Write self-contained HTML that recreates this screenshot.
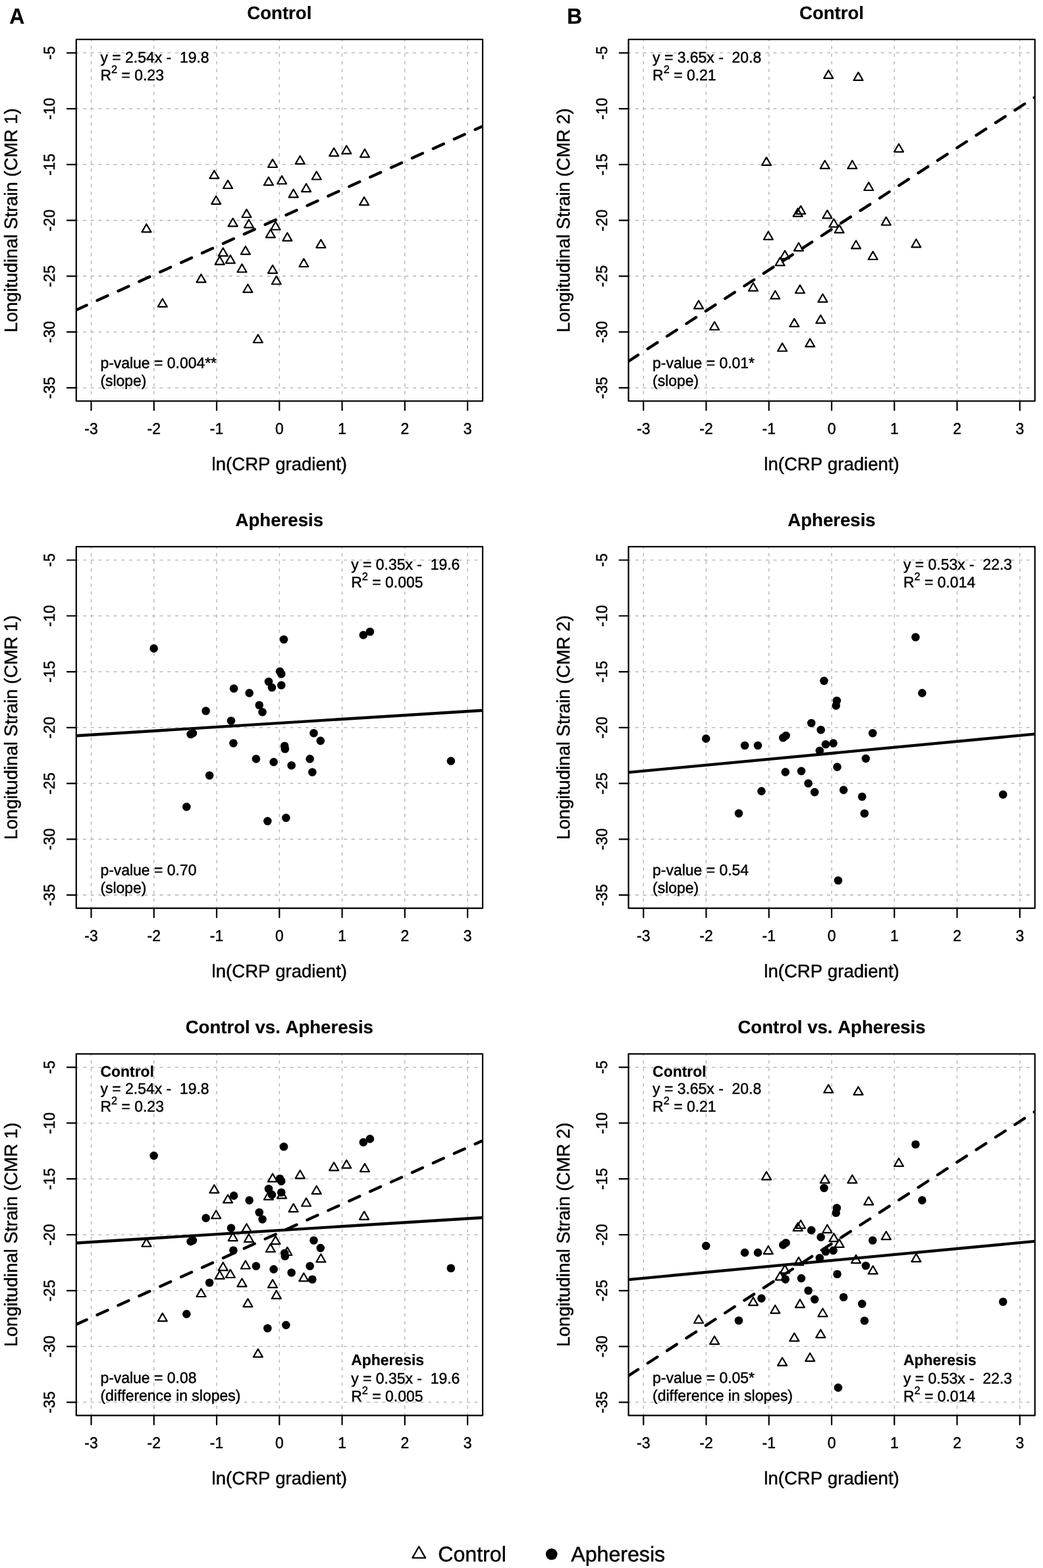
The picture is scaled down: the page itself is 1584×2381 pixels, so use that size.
<!DOCTYPE html>
<html lang="en"><head><meta charset="utf-8"><title>Longitudinal strain vs ln(CRP gradient)</title>
<style>html,body{margin:0;padding:0;background:#fff}svg{display:block}text{font-family:"Liberation Sans", Arial, Helvetica, sans-serif;fill:#000;font-kerning:none;text-rendering:geometricPrecision;stroke:#000;stroke-width:0.45px;stroke-linejoin:round}.b{font-weight:bold;stroke-width:0.2px}</style>
</head><body>
<svg width="1584" height="2381" viewBox="0 0 1584 2381">
<rect width="1584" height="2381" fill="#fff"/>
<g>
<clipPath id="c00"><rect x="115.8" y="59.9" width="617.2" height="549.1"/></clipPath>
<g clip-path="url(#c00)" stroke="#bbbbbb" stroke-width="1.55" stroke-dasharray="5 6.65" fill="none">
<path d="M138.52 610.45V54.9"/>
<path d="M233.78 610.45V54.9"/>
<path d="M329.04 610.45V54.9"/>
<path d="M424.3 610.45V54.9"/>
<path d="M519.56 610.45V54.9"/>
<path d="M614.82 610.45V54.9"/>
<path d="M710.08 610.45V54.9"/>
<path d="M114.4 588.92H738"/>
<path d="M114.4 504.15H738"/>
<path d="M114.4 419.38H738"/>
<path d="M114.4 334.6H738"/>
<path d="M114.4 249.83H738"/>
<path d="M114.4 165.05H738"/>
<path d="M114.4 80.28H738"/>
</g>
<g clip-path="url(#c00)" stroke="#000" stroke-width="4.38" fill="none">
<path d="M115.66 470.74L732.94 191.68" stroke-dasharray="17.5 17.5" stroke-linecap="round"/>
</g>
<path d="M325.38 258.83L332.38 270.95L318.38 270.95ZM346.05 273.88L353.05 286L339.05 286ZM328.19 297.73L335.19 309.85L321.19 309.85ZM374.49 317.88L381.49 330.01L367.49 330.01ZM353.7 331.53L360.7 343.65L346.7 343.65ZM377.93 333.44L384.93 345.57L370.93 345.57ZM222.45 340.2L229.45 352.33L215.45 352.33ZM414.03 241.86L421.03 253.99L407.03 253.99ZM455.74 236.76L462.74 248.88L448.74 248.88ZM507.14 224.77L514.14 236.89L500.14 236.89ZM526.28 221.2L533.28 233.32L519.28 233.32ZM553.95 226.55L560.95 238.68L546.95 238.68ZM480.74 260.36L487.74 272.48L473.74 272.48ZM407.91 269.03L414.91 281.15L400.91 281.15ZM428.06 267.12L435.06 279.24L421.06 279.24ZM465.05 278.98L472.05 291.1L458.05 291.1ZM445.66 287.52L452.66 299.65L438.66 299.65ZM553.06 299.26L560.06 311.38L546.06 311.38ZM418.49 336.63L425.49 348.76L411.49 348.76ZM410.84 348.49L417.84 360.62L403.84 360.62ZM436.35 353.47L443.35 365.59L429.35 365.59ZM372.83 373.98L379.83 386.1L365.83 386.1ZM338.78 376.53L345.78 388.65L331.78 388.65ZM333.67 389.41L340.67 401.54L326.67 401.54ZM349.87 387.5L356.87 399.62L342.87 399.62ZM367.47 401.15L374.47 413.27L360.47 413.27ZM305.48 416.45L312.48 428.58L298.48 428.58ZM376.4 431.76L383.4 443.88L369.4 443.88ZM246.81 453.7L253.81 465.82L239.81 465.82ZM487.37 363.9L494.37 376.03L480.37 376.03ZM461.35 392.86L468.35 404.98L454.35 404.98ZM414.03 402.68L421.03 414.8L407.03 414.8ZM419.77 419.39L426.77 431.51L412.77 431.51ZM391.84 508.14L398.84 520.26L384.84 520.26Z" fill="none" stroke="#000" stroke-width="2.2" stroke-linejoin="round"/>
<path d="M115.8 59.9H733V609H115.8ZM138.52 609v13.9M233.78 609v13.9M329.04 609v13.9M424.3 609v13.9M519.56 609v13.9M614.82 609v13.9M710.08 609v13.9M115.8 588.92h-13.9M115.8 504.15h-13.9M115.8 419.38h-13.9M115.8 334.6h-13.9M115.8 249.83h-13.9M115.8 165.05h-13.9M115.8 80.28h-13.9" fill="none" stroke="#000" stroke-width="2.2" stroke-linejoin="round" stroke-linecap="round"/>
<g font-size="22.95" text-anchor="middle">
<text transform="translate(138.52 658.9) scale(1 1.045)" xml:space="preserve">-3</text>
<text transform="translate(233.78 658.9) scale(1 1.045)" xml:space="preserve">-2</text>
<text transform="translate(329.04 658.9) scale(1 1.045)" xml:space="preserve">-1</text>
<text transform="translate(424.3 658.9) scale(1 1.045)" xml:space="preserve">0</text>
<text transform="translate(519.56 658.9) scale(1 1.045)" xml:space="preserve">1</text>
<text transform="translate(614.82 658.9) scale(1 1.045)" xml:space="preserve">2</text>
<text transform="translate(710.08 658.9) scale(1 1.045)" xml:space="preserve">3</text>
<text transform="translate(82.9 588.92) rotate(-90) scale(1 1.045)" xml:space="preserve">-35</text>
<text transform="translate(82.9 504.15) rotate(-90) scale(1 1.045)" xml:space="preserve">-30</text>
<text transform="translate(82.9 419.38) rotate(-90) scale(1 1.045)" xml:space="preserve">-25</text>
<text transform="translate(82.9 334.6) rotate(-90) scale(1 1.045)" xml:space="preserve">-20</text>
<text transform="translate(82.9 249.83) rotate(-90) scale(1 1.045)" xml:space="preserve">-15</text>
<text transform="translate(82.9 165.05) rotate(-90) scale(1 1.045)" xml:space="preserve">-10</text>
<text transform="translate(82.9 80.28) rotate(-90) scale(1 1.045)" xml:space="preserve">-5</text>
</g>
<text transform="translate(424.3 713.8)" font-size="27.6" text-anchor="middle" xml:space="preserve">ln(CRP gradient)</text>
<text transform="translate(26.1 334.45) rotate(-90)" font-size="27.6" text-anchor="middle" xml:space="preserve">Longitudinal Strain (CMR 1)</text>
<text transform="translate(424.3 28.7)" font-size="27.6" text-anchor="middle" class="b" xml:space="preserve">Control</text>
<g font-size="22.95">
<text transform="translate(152.4 94.7) scale(1 1.02)" xml:space="preserve">y = 2.54x -  19.8</text>
<text transform="translate(152.4 121.7) scale(1 1.02)" xml:space="preserve">R<tspan font-size="16.4" dy="-10.9">2</tspan><tspan dy="10.9"> = 0.23</tspan></text>
<text transform="translate(152.4 559.2) scale(1 1.02)" xml:space="preserve">p-value = 0.004**</text>
<text transform="translate(152.4 586.1) scale(1 1.02)" xml:space="preserve">(slope)</text>
</g>
</g>
<g>
<clipPath id="c10"><rect x="954.5" y="59.9" width="617.2" height="549.1"/></clipPath>
<g clip-path="url(#c10)" stroke="#bbbbbb" stroke-width="1.55" stroke-dasharray="5 6.65" fill="none">
<path d="M977.22 610.45V54.9"/>
<path d="M1072.48 610.45V54.9"/>
<path d="M1167.74 610.45V54.9"/>
<path d="M1263 610.45V54.9"/>
<path d="M1358.26 610.45V54.9"/>
<path d="M1453.52 610.45V54.9"/>
<path d="M1548.78 610.45V54.9"/>
<path d="M953.1 588.92H1576.7"/>
<path d="M953.1 504.15H1576.7"/>
<path d="M953.1 419.38H1576.7"/>
<path d="M953.1 334.6H1576.7"/>
<path d="M953.1 249.83H1576.7"/>
<path d="M953.1 165.05H1576.7"/>
<path d="M953.1 80.28H1576.7"/>
</g>
<g clip-path="url(#c10)" stroke="#000" stroke-width="4.38" fill="none">
<path d="M954.36 548.67L1571.64 147.65" stroke-dasharray="17.5 17.5" stroke-linecap="round"/>
</g>
<path d="M1258.22 106.68L1265.22 118.81L1251.22 118.81ZM1303.49 109.83L1310.49 121.96L1296.49 121.96ZM1365 218.44L1372 230.56L1358 230.56ZM1164.04 238.83L1171.04 250.96L1157.04 250.96ZM1252.75 243.81L1259.75 255.93L1245.75 255.93ZM1294.37 243.81L1301.37 255.93L1287.37 255.93ZM1216.09 312.66L1223.09 324.79L1209.09 324.79ZM1211.61 316.48L1218.61 328.6L1204.61 328.6ZM1256.38 319.29L1263.38 331.42L1249.38 331.42ZM1266.33 332.56L1273.33 344.68L1259.33 344.68ZM1274.62 341.35L1281.62 353.47L1267.62 353.47ZM1166.84 351.63L1173.84 363.75L1159.84 363.75ZM1212.94 368.71L1219.94 380.83L1205.94 380.83ZM1192.05 380.64L1199.05 392.77L1185.05 392.77ZM1184.59 391.09L1191.59 403.21L1177.59 403.21ZM1143.96 429.56L1150.96 441.68L1136.96 441.68ZM1214.93 432.87L1221.93 445L1207.93 445ZM1319.26 276.88L1326.26 289.01L1312.26 289.01ZM1345.79 329.61L1352.79 341.73L1338.79 341.73ZM1300.02 365.3L1307.02 377.43L1293.02 377.43ZM1391.38 363.31L1398.38 375.44L1384.38 375.44ZM1325.72 381.88L1332.72 394.01L1318.72 394.01ZM1249.45 446.55L1256.45 458.67L1242.45 458.67ZM1246.3 478.55L1253.3 490.68L1239.3 490.68ZM1177.29 441.55L1184.29 453.68L1170.29 453.68ZM1061.06 456.48L1068.06 468.6L1054.06 468.6ZM1085.1 488.64L1092.1 500.77L1078.1 500.77ZM1206.31 483.83L1213.31 495.96L1199.31 495.96ZM1188.07 521.14L1195.07 533.27L1181.07 533.27ZM1230.18 514.34L1237.18 526.47L1223.18 526.47Z" fill="none" stroke="#000" stroke-width="2.2" stroke-linejoin="round"/>
<path d="M954.5 59.9H1571.7V609H954.5ZM977.22 609v13.9M1072.48 609v13.9M1167.74 609v13.9M1263 609v13.9M1358.26 609v13.9M1453.52 609v13.9M1548.78 609v13.9M954.5 588.92h-13.9M954.5 504.15h-13.9M954.5 419.38h-13.9M954.5 334.6h-13.9M954.5 249.83h-13.9M954.5 165.05h-13.9M954.5 80.28h-13.9" fill="none" stroke="#000" stroke-width="2.2" stroke-linejoin="round" stroke-linecap="round"/>
<g font-size="22.95" text-anchor="middle">
<text transform="translate(977.22 658.9) scale(1 1.045)" xml:space="preserve">-3</text>
<text transform="translate(1072.48 658.9) scale(1 1.045)" xml:space="preserve">-2</text>
<text transform="translate(1167.74 658.9) scale(1 1.045)" xml:space="preserve">-1</text>
<text transform="translate(1263 658.9) scale(1 1.045)" xml:space="preserve">0</text>
<text transform="translate(1358.26 658.9) scale(1 1.045)" xml:space="preserve">1</text>
<text transform="translate(1453.52 658.9) scale(1 1.045)" xml:space="preserve">2</text>
<text transform="translate(1548.78 658.9) scale(1 1.045)" xml:space="preserve">3</text>
<text transform="translate(921.6 588.92) rotate(-90) scale(1 1.045)" xml:space="preserve">-35</text>
<text transform="translate(921.6 504.15) rotate(-90) scale(1 1.045)" xml:space="preserve">-30</text>
<text transform="translate(921.6 419.38) rotate(-90) scale(1 1.045)" xml:space="preserve">-25</text>
<text transform="translate(921.6 334.6) rotate(-90) scale(1 1.045)" xml:space="preserve">-20</text>
<text transform="translate(921.6 249.83) rotate(-90) scale(1 1.045)" xml:space="preserve">-15</text>
<text transform="translate(921.6 165.05) rotate(-90) scale(1 1.045)" xml:space="preserve">-10</text>
<text transform="translate(921.6 80.28) rotate(-90) scale(1 1.045)" xml:space="preserve">-5</text>
</g>
<text transform="translate(1263 713.8)" font-size="27.6" text-anchor="middle" xml:space="preserve">ln(CRP gradient)</text>
<text transform="translate(864.8 334.45) rotate(-90)" font-size="27.6" text-anchor="middle" xml:space="preserve">Longitudinal Strain (CMR 2)</text>
<text transform="translate(1263 28.7)" font-size="27.6" text-anchor="middle" class="b" xml:space="preserve">Control</text>
<g font-size="22.95">
<text transform="translate(991.1 94.7) scale(1 1.02)" xml:space="preserve">y = 3.65x -  20.8</text>
<text transform="translate(991.1 121.7) scale(1 1.02)" xml:space="preserve">R<tspan font-size="16.4" dy="-10.9">2</tspan><tspan dy="10.9"> = 0.21</tspan></text>
<text transform="translate(991.1 559.2) scale(1 1.02)" xml:space="preserve">p-value = 0.01*</text>
<text transform="translate(991.1 586.1) scale(1 1.02)" xml:space="preserve">(slope)</text>
</g>
</g>
<g>
<clipPath id="c01"><rect x="115.8" y="830.1" width="617.2" height="549.1"/></clipPath>
<g clip-path="url(#c01)" stroke="#bbbbbb" stroke-width="1.55" stroke-dasharray="5 6.65" fill="none">
<path d="M138.52 1380.65V825.1"/>
<path d="M233.78 1380.65V825.1"/>
<path d="M329.04 1380.65V825.1"/>
<path d="M424.3 1380.65V825.1"/>
<path d="M519.56 1380.65V825.1"/>
<path d="M614.82 1380.65V825.1"/>
<path d="M710.08 1380.65V825.1"/>
<path d="M114.4 1359.13H738"/>
<path d="M114.4 1274.35H738"/>
<path d="M114.4 1189.58H738"/>
<path d="M114.4 1104.8H738"/>
<path d="M114.4 1020.03H738"/>
<path d="M114.4 935.25H738"/>
<path d="M114.4 850.48H738"/>
</g>
<g clip-path="url(#c01)" stroke="#000" stroke-width="4.38" fill="none">
<path d="M115.66 1117.24L732.94 1078.79"/>
</g>
<g fill="#000">
<circle cx="431.05" cy="971.01" r="6.3"/>
<circle cx="425.08" cy="1019.59" r="6.3"/>
<circle cx="427.24" cy="1023.4" r="6.3"/>
<circle cx="408.01" cy="1035.01" r="6.3"/>
<circle cx="412.98" cy="1043.96" r="6.3"/>
<circle cx="427.24" cy="1040.48" r="6.3"/>
<circle cx="355.11" cy="1045.46" r="6.3"/>
<circle cx="378.66" cy="1052.42" r="6.3"/>
<circle cx="393.75" cy="1070.82" r="6.3"/>
<circle cx="398.55" cy="1081.27" r="6.3"/>
<circle cx="312.66" cy="1079.45" r="6.3"/>
<circle cx="350.97" cy="1094.53" r="6.3"/>
<circle cx="292.93" cy="1113.27" r="6.3"/>
<circle cx="289.62" cy="1114.93" r="6.3"/>
<circle cx="476.48" cy="1113.27" r="6.3"/>
<circle cx="486.77" cy="1124.88" r="6.3"/>
<circle cx="354.45" cy="1128.53" r="6.3"/>
<circle cx="432.21" cy="1132.78" r="6.3"/>
<circle cx="432.88" cy="1137.26" r="6.3"/>
<circle cx="388.94" cy="1152.34" r="6.3"/>
<circle cx="415.63" cy="1157.15" r="6.3"/>
<circle cx="442.66" cy="1162.29" r="6.3"/>
<circle cx="470.68" cy="1152.34" r="6.3"/>
<circle cx="474.33" cy="1172.57" r="6.3"/>
<circle cx="318.14" cy="1177.55" r="6.3"/>
<circle cx="283.32" cy="1225.14" r="6.3"/>
<circle cx="406.35" cy="1246.86" r="6.3"/>
<circle cx="434.37" cy="1241.88" r="6.3"/>
<circle cx="233.67" cy="984.64" r="6.3"/>
<circle cx="551.86" cy="964.28" r="6.3"/>
<circle cx="561.9" cy="959.18" r="6.3"/>
<circle cx="684.82" cy="1155.62" r="6.3"/>
</g>
<path d="M115.8 830.1H733V1379.2H115.8ZM138.52 1379.2v13.9M233.78 1379.2v13.9M329.04 1379.2v13.9M424.3 1379.2v13.9M519.56 1379.2v13.9M614.82 1379.2v13.9M710.08 1379.2v13.9M115.8 1359.13h-13.9M115.8 1274.35h-13.9M115.8 1189.58h-13.9M115.8 1104.8h-13.9M115.8 1020.03h-13.9M115.8 935.25h-13.9M115.8 850.48h-13.9" fill="none" stroke="#000" stroke-width="2.2" stroke-linejoin="round" stroke-linecap="round"/>
<g font-size="22.95" text-anchor="middle">
<text transform="translate(138.52 1429.1) scale(1 1.045)" xml:space="preserve">-3</text>
<text transform="translate(233.78 1429.1) scale(1 1.045)" xml:space="preserve">-2</text>
<text transform="translate(329.04 1429.1) scale(1 1.045)" xml:space="preserve">-1</text>
<text transform="translate(424.3 1429.1) scale(1 1.045)" xml:space="preserve">0</text>
<text transform="translate(519.56 1429.1) scale(1 1.045)" xml:space="preserve">1</text>
<text transform="translate(614.82 1429.1) scale(1 1.045)" xml:space="preserve">2</text>
<text transform="translate(710.08 1429.1) scale(1 1.045)" xml:space="preserve">3</text>
<text transform="translate(82.9 1359.13) rotate(-90) scale(1 1.045)" xml:space="preserve">-35</text>
<text transform="translate(82.9 1274.35) rotate(-90) scale(1 1.045)" xml:space="preserve">-30</text>
<text transform="translate(82.9 1189.58) rotate(-90) scale(1 1.045)" xml:space="preserve">-25</text>
<text transform="translate(82.9 1104.8) rotate(-90) scale(1 1.045)" xml:space="preserve">-20</text>
<text transform="translate(82.9 1020.03) rotate(-90) scale(1 1.045)" xml:space="preserve">-15</text>
<text transform="translate(82.9 935.25) rotate(-90) scale(1 1.045)" xml:space="preserve">-10</text>
<text transform="translate(82.9 850.48) rotate(-90) scale(1 1.045)" xml:space="preserve">-5</text>
</g>
<text transform="translate(424.3 1484)" font-size="27.6" text-anchor="middle" xml:space="preserve">ln(CRP gradient)</text>
<text transform="translate(26.1 1104.65) rotate(-90)" font-size="27.6" text-anchor="middle" xml:space="preserve">Longitudinal Strain (CMR 1)</text>
<text transform="translate(424.3 798.9)" font-size="27.6" text-anchor="middle" class="b" xml:space="preserve">Apheresis</text>
<g font-size="22.95">
<text transform="translate(533.2 864.9) scale(1 1.02)" xml:space="preserve">y = 0.35x -  19.6</text>
<text transform="translate(533.2 891.9) scale(1 1.02)" xml:space="preserve">R<tspan font-size="16.4" dy="-10.9">2</tspan><tspan dy="10.9"> = 0.005</tspan></text>
<text transform="translate(152.4 1329.4) scale(1 1.02)" xml:space="preserve">p-value = 0.70</text>
<text transform="translate(152.4 1356.3) scale(1 1.02)" xml:space="preserve">(slope)</text>
</g>
</g>
<g>
<clipPath id="c11"><rect x="954.5" y="830.1" width="617.2" height="549.1"/></clipPath>
<g clip-path="url(#c11)" stroke="#bbbbbb" stroke-width="1.55" stroke-dasharray="5 6.65" fill="none">
<path d="M977.22 1380.65V825.1"/>
<path d="M1072.48 1380.65V825.1"/>
<path d="M1167.74 1380.65V825.1"/>
<path d="M1263 1380.65V825.1"/>
<path d="M1358.26 1380.65V825.1"/>
<path d="M1453.52 1380.65V825.1"/>
<path d="M1548.78 1380.65V825.1"/>
<path d="M953.1 1359.13H1576.7"/>
<path d="M953.1 1274.35H1576.7"/>
<path d="M953.1 1189.58H1576.7"/>
<path d="M953.1 1104.8H1576.7"/>
<path d="M953.1 1020.03H1576.7"/>
<path d="M953.1 935.25H1576.7"/>
<path d="M953.1 850.48H1576.7"/>
</g>
<g clip-path="url(#c11)" stroke="#000" stroke-width="4.38" fill="none">
<path d="M954.36 1172.91L1571.64 1114.68"/>
</g>
<g fill="#000">
<circle cx="1251.46" cy="1033.85" r="6.3"/>
<circle cx="1270.86" cy="1064.03" r="6.3"/>
<circle cx="1269.7" cy="1071.49" r="6.3"/>
<circle cx="1232.23" cy="1097.96" r="6.3"/>
<circle cx="1246.65" cy="1108.24" r="6.3"/>
<circle cx="1193.59" cy="1117.03" r="6.3"/>
<circle cx="1189.28" cy="1120.18" r="6.3"/>
<circle cx="1072.22" cy="1121.67" r="6.3"/>
<circle cx="1131.08" cy="1131.95" r="6.3"/>
<circle cx="1150.98" cy="1131.95" r="6.3"/>
<circle cx="1253.95" cy="1130.29" r="6.3"/>
<circle cx="1265.55" cy="1128.63" r="6.3"/>
<circle cx="1244.83" cy="1140.07" r="6.3"/>
<circle cx="1192.76" cy="1172.41" r="6.3"/>
<circle cx="1216.97" cy="1170.92" r="6.3"/>
<circle cx="1271.52" cy="1164.61" r="6.3"/>
<circle cx="1227.58" cy="1189.49" r="6.3"/>
<circle cx="1237.2" cy="1202.92" r="6.3"/>
<circle cx="1156.45" cy="1201.42" r="6.3"/>
<circle cx="1281.14" cy="1199.6" r="6.3"/>
<circle cx="1121.96" cy="1235.08" r="6.3"/>
<circle cx="1390.48" cy="967.52" r="6.3"/>
<circle cx="1400.43" cy="1052.42" r="6.3"/>
<circle cx="1325.32" cy="1113.27" r="6.3"/>
<circle cx="1314.87" cy="1151.85" r="6.3"/>
<circle cx="1309.23" cy="1209.71" r="6.3"/>
<circle cx="1312.88" cy="1235.25" r="6.3"/>
<circle cx="1523.29" cy="1206.56" r="6.3"/>
<circle cx="1272.95" cy="1336.96" r="6.3"/>
</g>
<path d="M954.5 830.1H1571.7V1379.2H954.5ZM977.22 1379.2v13.9M1072.48 1379.2v13.9M1167.74 1379.2v13.9M1263 1379.2v13.9M1358.26 1379.2v13.9M1453.52 1379.2v13.9M1548.78 1379.2v13.9M954.5 1359.13h-13.9M954.5 1274.35h-13.9M954.5 1189.58h-13.9M954.5 1104.8h-13.9M954.5 1020.03h-13.9M954.5 935.25h-13.9M954.5 850.48h-13.9" fill="none" stroke="#000" stroke-width="2.2" stroke-linejoin="round" stroke-linecap="round"/>
<g font-size="22.95" text-anchor="middle">
<text transform="translate(977.22 1429.1) scale(1 1.045)" xml:space="preserve">-3</text>
<text transform="translate(1072.48 1429.1) scale(1 1.045)" xml:space="preserve">-2</text>
<text transform="translate(1167.74 1429.1) scale(1 1.045)" xml:space="preserve">-1</text>
<text transform="translate(1263 1429.1) scale(1 1.045)" xml:space="preserve">0</text>
<text transform="translate(1358.26 1429.1) scale(1 1.045)" xml:space="preserve">1</text>
<text transform="translate(1453.52 1429.1) scale(1 1.045)" xml:space="preserve">2</text>
<text transform="translate(1548.78 1429.1) scale(1 1.045)" xml:space="preserve">3</text>
<text transform="translate(921.6 1359.13) rotate(-90) scale(1 1.045)" xml:space="preserve">-35</text>
<text transform="translate(921.6 1274.35) rotate(-90) scale(1 1.045)" xml:space="preserve">-30</text>
<text transform="translate(921.6 1189.58) rotate(-90) scale(1 1.045)" xml:space="preserve">-25</text>
<text transform="translate(921.6 1104.8) rotate(-90) scale(1 1.045)" xml:space="preserve">-20</text>
<text transform="translate(921.6 1020.03) rotate(-90) scale(1 1.045)" xml:space="preserve">-15</text>
<text transform="translate(921.6 935.25) rotate(-90) scale(1 1.045)" xml:space="preserve">-10</text>
<text transform="translate(921.6 850.48) rotate(-90) scale(1 1.045)" xml:space="preserve">-5</text>
</g>
<text transform="translate(1263 1484)" font-size="27.6" text-anchor="middle" xml:space="preserve">ln(CRP gradient)</text>
<text transform="translate(864.8 1104.65) rotate(-90)" font-size="27.6" text-anchor="middle" xml:space="preserve">Longitudinal Strain (CMR 2)</text>
<text transform="translate(1263 798.9)" font-size="27.6" text-anchor="middle" class="b" xml:space="preserve">Apheresis</text>
<g font-size="22.95">
<text transform="translate(1371.9 864.9) scale(1 1.02)" xml:space="preserve">y = 0.53x -  22.3</text>
<text transform="translate(1371.9 891.9) scale(1 1.02)" xml:space="preserve">R<tspan font-size="16.4" dy="-10.9">2</tspan><tspan dy="10.9"> = 0.014</tspan></text>
<text transform="translate(991.1 1329.4) scale(1 1.02)" xml:space="preserve">p-value = 0.54</text>
<text transform="translate(991.1 1356.3) scale(1 1.02)" xml:space="preserve">(slope)</text>
</g>
</g>
<g>
<clipPath id="c02"><rect x="115.8" y="1600.3" width="617.2" height="549.1"/></clipPath>
<g clip-path="url(#c02)" stroke="#bbbbbb" stroke-width="1.55" stroke-dasharray="5 6.65" fill="none">
<path d="M138.52 2150.85V1595.3"/>
<path d="M233.78 2150.85V1595.3"/>
<path d="M329.04 2150.85V1595.3"/>
<path d="M424.3 2150.85V1595.3"/>
<path d="M519.56 2150.85V1595.3"/>
<path d="M614.82 2150.85V1595.3"/>
<path d="M710.08 2150.85V1595.3"/>
<path d="M114.4 2129.32H738"/>
<path d="M114.4 2044.55H738"/>
<path d="M114.4 1959.78H738"/>
<path d="M114.4 1875H738"/>
<path d="M114.4 1790.22H738"/>
<path d="M114.4 1705.45H738"/>
<path d="M114.4 1620.67H738"/>
</g>
<g clip-path="url(#c02)" stroke="#000" stroke-width="4.38" fill="none">
<path d="M115.66 2011.14L732.94 1732.08" stroke-dasharray="17.5 17.5" stroke-linecap="round"/>
<path d="M115.66 1887.44L732.94 1848.99"/>
</g>
<path d="M325.38 1799.23L332.38 1811.35L318.38 1811.35ZM346.05 1814.28L353.05 1826.4L339.05 1826.4ZM328.19 1838.13L335.19 1850.25L321.19 1850.25ZM374.49 1858.28L381.49 1870.41L367.49 1870.41ZM353.7 1871.93L360.7 1884.05L346.7 1884.05ZM377.93 1873.84L384.93 1885.97L370.93 1885.97ZM222.45 1880.6L229.45 1892.73L215.45 1892.73ZM414.03 1782.26L421.03 1794.39L407.03 1794.39ZM455.74 1777.16L462.74 1789.28L448.74 1789.28ZM507.14 1765.17L514.14 1777.29L500.14 1777.29ZM526.28 1761.6L533.28 1773.72L519.28 1773.72ZM553.95 1766.95L560.95 1779.08L546.95 1779.08ZM480.74 1800.76L487.74 1812.88L473.74 1812.88ZM407.91 1809.43L414.91 1821.55L400.91 1821.55ZM428.06 1807.52L435.06 1819.64L421.06 1819.64ZM465.05 1819.38L472.05 1831.5L458.05 1831.5ZM445.66 1827.92L452.66 1840.05L438.66 1840.05ZM553.06 1839.66L560.06 1851.78L546.06 1851.78ZM418.49 1877.03L425.49 1889.16L411.49 1889.16ZM410.84 1888.89L417.84 1901.02L403.84 1901.02ZM436.35 1893.87L443.35 1905.99L429.35 1905.99ZM372.83 1914.38L379.83 1926.5L365.83 1926.5ZM338.78 1916.93L345.78 1929.05L331.78 1929.05ZM333.67 1929.81L340.67 1941.94L326.67 1941.94ZM349.87 1927.9L356.87 1940.02L342.87 1940.02ZM367.47 1941.55L374.47 1953.67L360.47 1953.67ZM305.48 1956.85L312.48 1968.98L298.48 1968.98ZM376.4 1972.16L383.4 1984.28L369.4 1984.28ZM246.81 1994.1L253.81 2006.22L239.81 2006.22ZM487.37 1904.3L494.37 1916.43L480.37 1916.43ZM461.35 1933.26L468.35 1945.38L454.35 1945.38ZM414.03 1943.08L421.03 1955.2L407.03 1955.2ZM419.77 1959.79L426.77 1971.91L412.77 1971.91ZM391.84 2048.54L398.84 2060.66L384.84 2060.66Z" fill="none" stroke="#000" stroke-width="2.2" stroke-linejoin="round"/>
<g fill="#000">
<circle cx="431.05" cy="1741.21" r="6.3"/>
<circle cx="425.08" cy="1789.79" r="6.3"/>
<circle cx="427.24" cy="1793.6" r="6.3"/>
<circle cx="408.01" cy="1805.21" r="6.3"/>
<circle cx="412.98" cy="1814.16" r="6.3"/>
<circle cx="427.24" cy="1810.68" r="6.3"/>
<circle cx="355.11" cy="1815.66" r="6.3"/>
<circle cx="378.66" cy="1822.62" r="6.3"/>
<circle cx="393.75" cy="1841.02" r="6.3"/>
<circle cx="398.55" cy="1851.47" r="6.3"/>
<circle cx="312.66" cy="1849.65" r="6.3"/>
<circle cx="350.97" cy="1864.73" r="6.3"/>
<circle cx="292.93" cy="1883.47" r="6.3"/>
<circle cx="289.62" cy="1885.13" r="6.3"/>
<circle cx="476.48" cy="1883.47" r="6.3"/>
<circle cx="486.77" cy="1895.08" r="6.3"/>
<circle cx="354.45" cy="1898.73" r="6.3"/>
<circle cx="432.21" cy="1902.98" r="6.3"/>
<circle cx="432.88" cy="1907.46" r="6.3"/>
<circle cx="388.94" cy="1922.54" r="6.3"/>
<circle cx="415.63" cy="1927.35" r="6.3"/>
<circle cx="442.66" cy="1932.49" r="6.3"/>
<circle cx="470.68" cy="1922.54" r="6.3"/>
<circle cx="474.33" cy="1942.77" r="6.3"/>
<circle cx="318.14" cy="1947.75" r="6.3"/>
<circle cx="283.32" cy="1995.34" r="6.3"/>
<circle cx="406.35" cy="2017.06" r="6.3"/>
<circle cx="434.37" cy="2012.08" r="6.3"/>
<circle cx="233.67" cy="1754.84" r="6.3"/>
<circle cx="551.86" cy="1734.48" r="6.3"/>
<circle cx="561.9" cy="1729.38" r="6.3"/>
<circle cx="684.82" cy="1925.82" r="6.3"/>
</g>
<path d="M115.8 1600.3H733V2149.4H115.8ZM138.52 2149.4v13.9M233.78 2149.4v13.9M329.04 2149.4v13.9M424.3 2149.4v13.9M519.56 2149.4v13.9M614.82 2149.4v13.9M710.08 2149.4v13.9M115.8 2129.32h-13.9M115.8 2044.55h-13.9M115.8 1959.78h-13.9M115.8 1875h-13.9M115.8 1790.22h-13.9M115.8 1705.45h-13.9M115.8 1620.67h-13.9" fill="none" stroke="#000" stroke-width="2.2" stroke-linejoin="round" stroke-linecap="round"/>
<g font-size="22.95" text-anchor="middle">
<text transform="translate(138.52 2199.3) scale(1 1.045)" xml:space="preserve">-3</text>
<text transform="translate(233.78 2199.3) scale(1 1.045)" xml:space="preserve">-2</text>
<text transform="translate(329.04 2199.3) scale(1 1.045)" xml:space="preserve">-1</text>
<text transform="translate(424.3 2199.3) scale(1 1.045)" xml:space="preserve">0</text>
<text transform="translate(519.56 2199.3) scale(1 1.045)" xml:space="preserve">1</text>
<text transform="translate(614.82 2199.3) scale(1 1.045)" xml:space="preserve">2</text>
<text transform="translate(710.08 2199.3) scale(1 1.045)" xml:space="preserve">3</text>
<text transform="translate(82.9 2129.32) rotate(-90) scale(1 1.045)" xml:space="preserve">-35</text>
<text transform="translate(82.9 2044.55) rotate(-90) scale(1 1.045)" xml:space="preserve">-30</text>
<text transform="translate(82.9 1959.78) rotate(-90) scale(1 1.045)" xml:space="preserve">-25</text>
<text transform="translate(82.9 1875) rotate(-90) scale(1 1.045)" xml:space="preserve">-20</text>
<text transform="translate(82.9 1790.22) rotate(-90) scale(1 1.045)" xml:space="preserve">-15</text>
<text transform="translate(82.9 1705.45) rotate(-90) scale(1 1.045)" xml:space="preserve">-10</text>
<text transform="translate(82.9 1620.67) rotate(-90) scale(1 1.045)" xml:space="preserve">-5</text>
</g>
<text transform="translate(424.3 2254.2)" font-size="27.6" text-anchor="middle" xml:space="preserve">ln(CRP gradient)</text>
<text transform="translate(26.1 1874.85) rotate(-90)" font-size="27.6" text-anchor="middle" xml:space="preserve">Longitudinal Strain (CMR 1)</text>
<text transform="translate(424.3 1569.1)" font-size="27.6" text-anchor="middle" class="b" xml:space="preserve">Control vs. Apheresis</text>
<g font-size="22.95">
<text transform="translate(152.4 1635) scale(1 1.02)" class="b" xml:space="preserve">Control</text>
<text transform="translate(152.4 1661.1) scale(1 1.02)" xml:space="preserve">y = 2.54x -  19.8</text>
<text transform="translate(152.4 1687.9) scale(1 1.02)" xml:space="preserve">R<tspan font-size="16.4" dy="-10.9">2</tspan><tspan dy="10.9"> = 0.23</tspan></text>
<text transform="translate(152.4 2099.6) scale(1 1.02)" xml:space="preserve">p-value = 0.08</text>
<text transform="translate(152.4 2126.5) scale(1 1.02)" xml:space="preserve">(difference in slopes)</text>
<text transform="translate(533.2 2072.8) scale(1 1.02)" class="b" xml:space="preserve">Apheresis</text>
<text transform="translate(533.2 2101.2) scale(1 1.02)" xml:space="preserve">y = 0.35x -  19.6</text>
<text transform="translate(533.2 2128.3) scale(1 1.02)" xml:space="preserve">R<tspan font-size="16.4" dy="-10.9">2</tspan><tspan dy="10.9"> = 0.005</tspan></text>
</g>
</g>
<g>
<clipPath id="c12"><rect x="954.5" y="1600.3" width="617.2" height="549.1"/></clipPath>
<g clip-path="url(#c12)" stroke="#bbbbbb" stroke-width="1.55" stroke-dasharray="5 6.65" fill="none">
<path d="M977.22 2150.85V1595.3"/>
<path d="M1072.48 2150.85V1595.3"/>
<path d="M1167.74 2150.85V1595.3"/>
<path d="M1263 2150.85V1595.3"/>
<path d="M1358.26 2150.85V1595.3"/>
<path d="M1453.52 2150.85V1595.3"/>
<path d="M1548.78 2150.85V1595.3"/>
<path d="M953.1 2129.32H1576.7"/>
<path d="M953.1 2044.55H1576.7"/>
<path d="M953.1 1959.78H1576.7"/>
<path d="M953.1 1875H1576.7"/>
<path d="M953.1 1790.22H1576.7"/>
<path d="M953.1 1705.45H1576.7"/>
<path d="M953.1 1620.67H1576.7"/>
</g>
<g clip-path="url(#c12)" stroke="#000" stroke-width="4.38" fill="none">
<path d="M954.36 2089.07L1571.64 1688.05" stroke-dasharray="17.5 17.5" stroke-linecap="round"/>
<path d="M954.36 1943.11L1571.64 1884.88"/>
</g>
<path d="M1258.22 1647.08L1265.22 1659.21L1251.22 1659.21ZM1303.49 1650.23L1310.49 1662.36L1296.49 1662.36ZM1365 1758.84L1372 1770.96L1358 1770.96ZM1164.04 1779.23L1171.04 1791.36L1157.04 1791.36ZM1252.75 1784.21L1259.75 1796.33L1245.75 1796.33ZM1294.37 1784.21L1301.37 1796.33L1287.37 1796.33ZM1216.09 1853.06L1223.09 1865.19L1209.09 1865.19ZM1211.61 1856.88L1218.61 1869L1204.61 1869ZM1256.38 1859.69L1263.38 1871.82L1249.38 1871.82ZM1266.33 1872.96L1273.33 1885.08L1259.33 1885.08ZM1274.62 1881.75L1281.62 1893.87L1267.62 1893.87ZM1166.84 1892.03L1173.84 1904.15L1159.84 1904.15ZM1212.94 1909.11L1219.94 1921.23L1205.94 1921.23ZM1192.05 1921.04L1199.05 1933.17L1185.05 1933.17ZM1184.59 1931.49L1191.59 1943.61L1177.59 1943.61ZM1143.96 1969.96L1150.96 1982.08L1136.96 1982.08ZM1214.93 1973.27L1221.93 1985.4L1207.93 1985.4ZM1319.26 1817.28L1326.26 1829.41L1312.26 1829.41ZM1345.79 1870.01L1352.79 1882.13L1338.79 1882.13ZM1300.02 1905.7L1307.02 1917.83L1293.02 1917.83ZM1391.38 1903.71L1398.38 1915.84L1384.38 1915.84ZM1325.72 1922.28L1332.72 1934.41L1318.72 1934.41ZM1249.45 1986.95L1256.45 1999.07L1242.45 1999.07ZM1246.3 2018.95L1253.3 2031.08L1239.3 2031.08ZM1177.29 1981.95L1184.29 1994.08L1170.29 1994.08ZM1061.06 1996.88L1068.06 2009L1054.06 2009ZM1085.1 2029.04L1092.1 2041.17L1078.1 2041.17ZM1206.31 2024.23L1213.31 2036.36L1199.31 2036.36ZM1188.07 2061.54L1195.07 2073.67L1181.07 2073.67ZM1230.18 2054.74L1237.18 2066.87L1223.18 2066.87Z" fill="none" stroke="#000" stroke-width="2.2" stroke-linejoin="round"/>
<g fill="#000">
<circle cx="1251.46" cy="1804.05" r="6.3"/>
<circle cx="1270.86" cy="1834.23" r="6.3"/>
<circle cx="1269.7" cy="1841.69" r="6.3"/>
<circle cx="1232.23" cy="1868.16" r="6.3"/>
<circle cx="1246.65" cy="1878.44" r="6.3"/>
<circle cx="1193.59" cy="1887.23" r="6.3"/>
<circle cx="1189.28" cy="1890.38" r="6.3"/>
<circle cx="1072.22" cy="1891.87" r="6.3"/>
<circle cx="1131.08" cy="1902.15" r="6.3"/>
<circle cx="1150.98" cy="1902.15" r="6.3"/>
<circle cx="1253.95" cy="1900.49" r="6.3"/>
<circle cx="1265.55" cy="1898.83" r="6.3"/>
<circle cx="1244.83" cy="1910.27" r="6.3"/>
<circle cx="1192.76" cy="1942.61" r="6.3"/>
<circle cx="1216.97" cy="1941.12" r="6.3"/>
<circle cx="1271.52" cy="1934.81" r="6.3"/>
<circle cx="1227.58" cy="1959.69" r="6.3"/>
<circle cx="1237.2" cy="1973.12" r="6.3"/>
<circle cx="1156.45" cy="1971.62" r="6.3"/>
<circle cx="1281.14" cy="1969.8" r="6.3"/>
<circle cx="1121.96" cy="2005.28" r="6.3"/>
<circle cx="1390.48" cy="1737.72" r="6.3"/>
<circle cx="1400.43" cy="1822.62" r="6.3"/>
<circle cx="1325.32" cy="1883.47" r="6.3"/>
<circle cx="1314.87" cy="1922.05" r="6.3"/>
<circle cx="1309.23" cy="1979.91" r="6.3"/>
<circle cx="1312.88" cy="2005.45" r="6.3"/>
<circle cx="1523.29" cy="1976.76" r="6.3"/>
<circle cx="1272.95" cy="2107.16" r="6.3"/>
</g>
<path d="M954.5 1600.3H1571.7V2149.4H954.5ZM977.22 2149.4v13.9M1072.48 2149.4v13.9M1167.74 2149.4v13.9M1263 2149.4v13.9M1358.26 2149.4v13.9M1453.52 2149.4v13.9M1548.78 2149.4v13.9M954.5 2129.32h-13.9M954.5 2044.55h-13.9M954.5 1959.78h-13.9M954.5 1875h-13.9M954.5 1790.22h-13.9M954.5 1705.45h-13.9M954.5 1620.67h-13.9" fill="none" stroke="#000" stroke-width="2.2" stroke-linejoin="round" stroke-linecap="round"/>
<g font-size="22.95" text-anchor="middle">
<text transform="translate(977.22 2199.3) scale(1 1.045)" xml:space="preserve">-3</text>
<text transform="translate(1072.48 2199.3) scale(1 1.045)" xml:space="preserve">-2</text>
<text transform="translate(1167.74 2199.3) scale(1 1.045)" xml:space="preserve">-1</text>
<text transform="translate(1263 2199.3) scale(1 1.045)" xml:space="preserve">0</text>
<text transform="translate(1358.26 2199.3) scale(1 1.045)" xml:space="preserve">1</text>
<text transform="translate(1453.52 2199.3) scale(1 1.045)" xml:space="preserve">2</text>
<text transform="translate(1548.78 2199.3) scale(1 1.045)" xml:space="preserve">3</text>
<text transform="translate(921.6 2129.32) rotate(-90) scale(1 1.045)" xml:space="preserve">-35</text>
<text transform="translate(921.6 2044.55) rotate(-90) scale(1 1.045)" xml:space="preserve">-30</text>
<text transform="translate(921.6 1959.78) rotate(-90) scale(1 1.045)" xml:space="preserve">-25</text>
<text transform="translate(921.6 1875) rotate(-90) scale(1 1.045)" xml:space="preserve">-20</text>
<text transform="translate(921.6 1790.22) rotate(-90) scale(1 1.045)" xml:space="preserve">-15</text>
<text transform="translate(921.6 1705.45) rotate(-90) scale(1 1.045)" xml:space="preserve">-10</text>
<text transform="translate(921.6 1620.67) rotate(-90) scale(1 1.045)" xml:space="preserve">-5</text>
</g>
<text transform="translate(1263 2254.2)" font-size="27.6" text-anchor="middle" xml:space="preserve">ln(CRP gradient)</text>
<text transform="translate(864.8 1874.85) rotate(-90)" font-size="27.6" text-anchor="middle" xml:space="preserve">Longitudinal Strain (CMR 2)</text>
<text transform="translate(1263 1569.1)" font-size="27.6" text-anchor="middle" class="b" xml:space="preserve">Control vs. Apheresis</text>
<g font-size="22.95">
<text transform="translate(991.1 1635) scale(1 1.02)" class="b" xml:space="preserve">Control</text>
<text transform="translate(991.1 1661.1) scale(1 1.02)" xml:space="preserve">y = 3.65x -  20.8</text>
<text transform="translate(991.1 1687.9) scale(1 1.02)" xml:space="preserve">R<tspan font-size="16.4" dy="-10.9">2</tspan><tspan dy="10.9"> = 0.21</tspan></text>
<text transform="translate(991.1 2099.6) scale(1 1.02)" xml:space="preserve">p-value = 0.05*</text>
<text transform="translate(991.1 2126.5) scale(1 1.02)" xml:space="preserve">(difference in slopes)</text>
<text transform="translate(1371.9 2072.8) scale(1 1.02)" class="b" xml:space="preserve">Apheresis</text>
<text transform="translate(1371.9 2101.2) scale(1 1.02)" xml:space="preserve">y = 0.53x -  22.3</text>
<text transform="translate(1371.9 2128.3) scale(1 1.02)" xml:space="preserve">R<tspan font-size="16.4" dy="-10.9">2</tspan><tspan dy="10.9"> = 0.014</tspan></text>
</g>
</g>
<text transform="translate(14.2 36.1) scale(1 1.04)" font-size="32.0" class="b" xml:space="preserve">A</text>
<text transform="translate(860.9 35.9) scale(1 1.04)" font-size="32.0" class="b" xml:space="preserve">B</text>
<path d="M636.2 2348.47L646.1 2365.62L626.3 2365.62Z" fill="none" stroke="#000" stroke-width="2.3" stroke-linejoin="round"/>
<text transform="translate(665.2 2371.3)" font-size="32.15" xml:space="preserve">Control</text>
<circle cx="837.7" cy="2360" r="8.8" fill="#000"/>
<text transform="translate(867.2 2371.3)" font-size="32.15" xml:space="preserve">Apheresis</text>
</svg></body></html>
